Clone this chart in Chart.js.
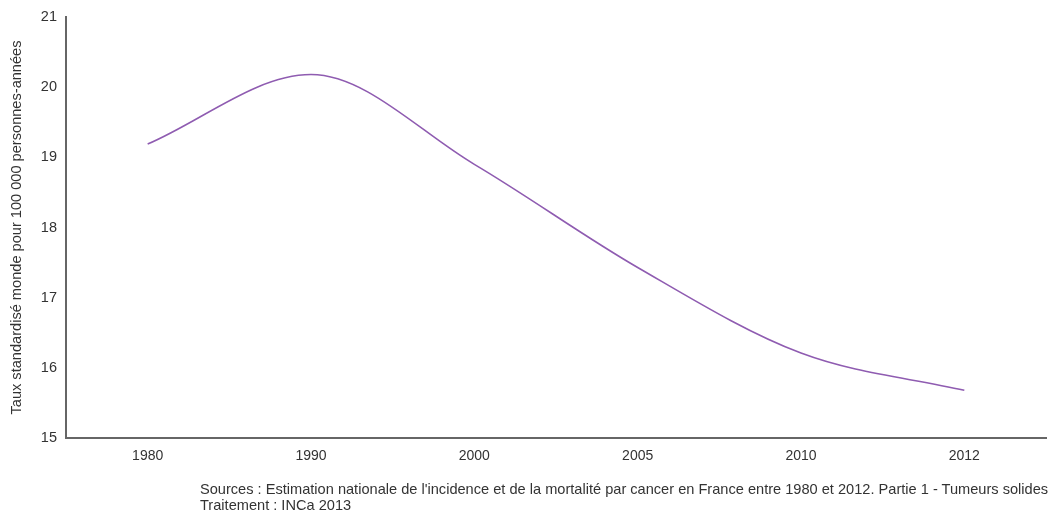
<!DOCTYPE html>
<html>
<head>
<meta charset="utf-8">
<script src="https://cdn.jsdelivr.net/npm/chart.js@4/dist/chart.umd.min.js"></script>
<style>
  html, body { margin: 0; padding: 0; background: #fff; }
  #wrap { position: relative; width: 1050px; height: 515px; }
  #note {
    position: absolute; left: 200px; top: 481px;
    font-family: 'Liberation Sans', Arial, sans-serif; font-size: 14.6px;
    line-height: 16px; color: #333; white-space: nowrap;
  }
</style>
</head>
<body>
<div id="wrap">
  <canvas id="chart" width="1050" height="515"></canvas>
  <div id="note">
    Sources : Estimation nationale de l'incidence et de la mortalité par cancer en France entre 1980 et 2012. Partie 1 - Tumeurs solides<br>
    Traitement : INCa 2013
  </div>
</div>
<script>
// Taux standardisé (monde)
const years = ['1980', '1990', '2000', '2005', '2010', '2012'];
const rates = [19.19, 20.18, 18.90, 17.43, 16.21, 15.68];
const yTitle = 'Taux standardisé monde pour 100 000 personnes-années';

const FONT = "'Liberation Sans', Arial, sans-serif";

new Chart(document.getElementById('chart'), {
    type: 'line',
    data: {
        labels: years,
        datasets: [{
            data: rates,
            borderColor: '#8f5cb1',
            borderWidth: 1.6,
            pointRadius: 0,
            fill: false,
            cubicInterpolationMode: 'monotone'
        }]
    },
    options: {
        responsive: false,
        animation: false,
        layout: { padding: { top: 17, right: 4, left: 0, bottom: 0 } },
        plugins: { legend: { display: false }, tooltip: { enabled: false } },
        scales: {
            x: {
                offset: true,
                grid: { display: false },
                border: { display: true, color: '#666', width: 2 },
                ticks: { color: '#333', font: { family: FONT, size: 14 }, padding: 2, maxRotation: 0 },
                afterFit: (s) => { s.height = 515 - 17 - 421; }
            },
            y: {
                min: 15,
                max: 21,
                grid: { display: false },
                border: { display: true, color: '#666', width: 2 },
                ticks: { stepSize: 1, color: '#333', font: { family: FONT, size: 14.5 }, padding: 1 },
                title: {
                    display: true,
                    text: yTitle,
                    color: '#333',
                    font: { family: FONT, size: 14.6 },
                    padding: { top: 8, bottom: 4 }
                },
                afterFit: (s) => { s.width = 66; }
            }
        }
    }
});
</script>
</body>
</html>
